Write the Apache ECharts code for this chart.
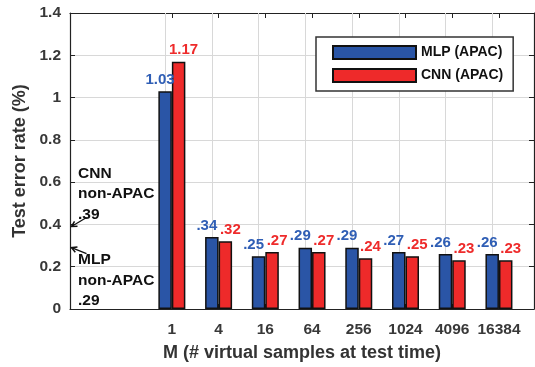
<!DOCTYPE html>
<html>
<head>
<meta charset="utf-8">
<script src="https://cdn.jsdelivr.net/npm/echarts@6/dist/echarts.min.js"></script>
<style>html,body{margin:0;padding:0;background:#fff;}#c{width:535px;height:367px;}</style>
</head>
<body>
<div id="c"></div>
<script>
const categories = ['1', '4', '16', '64', '256', '1024', '4096', '16384'];
const mlpApac = [1.03, 0.34, 0.25, 0.29, 0.29, 0.27, 0.26, 0.26];
const cnnApac = [1.17, 0.32, 0.27, 0.27, 0.24, 0.25, 0.23, 0.23];
const seriesNames = ['MLP (APAC)', 'CNN (APAC)'];
const nonApacNames = ['CNN', 'MLP'];
const nonApacValues = [0.39, 0.29];

const FONT = 'Liberation Sans, Arial, Helvetica, sans-serif';
const BLUE = '#2a55a6';
const RED = '#ee2a2a';
const X_MIN = -1.18, X_MAX = 8.75;
const positions = categories.map((c, i) => i + 1);

function fmt(v) {
  const s = v.toFixed(2);
  return s.startsWith('0') ? s.slice(1) : s;
}

const chart = echarts.init(document.getElementById('c'), null, {renderer: 'canvas'});

const axisCommonX = {
  type: 'value', min: X_MIN, max: X_MAX,
  axisLine: {show: true, onZero: false, lineStyle: {color: '#222', width: 1.2}},
  splitLine: {show: false}
};

chart.setOption({
  animation: false,
  backgroundColor: '#fff',
  grid: {left: 70, right: 1, top: 13, bottom: 54, containLabel: false},
  legend: {
    data: seriesNames,
    orient: 'vertical',
    left: 316, top: 37,
    itemWidth: 83, itemHeight: 13, itemGap: 8,
    padding: [8, 10, 8, 16],
    backgroundColor: '#fff',
    borderColor: '#333', borderWidth: 1.5,
    textStyle: {fontFamily: FONT, fontWeight: 'bold', fontSize: 14, color: '#111'},
    icon: 'rect'
  },
  xAxis: [
    Object.assign({}, axisCommonX, {
      position: 'bottom',
      name: 'M (# virtual samples at test time)',
      nameLocation: 'middle', nameGap: 35,
      nameTextStyle: {fontFamily: FONT, fontWeight: 'bold', fontSize: 18, color: '#333'},
      axisTick: {show: true, inside: true, length: 5, customValues: positions, lineStyle: {color: '#222'}},
      axisLabel: {
        show: true, customValues: positions, margin: 13,
        formatter: v => categories[Math.round(v) - 1] || '',
        fontFamily: FONT, fontWeight: 'bold', fontSize: 15.5, color: '#383838'
      }
    }),
    Object.assign({}, axisCommonX, {
      position: 'top',
      axisTick: {show: true, inside: true, length: 5, customValues: positions, lineStyle: {color: '#222'}},
      axisLabel: {show: false}
    })
  ],
  yAxis: [
    {
      type: 'value', min: 0, max: 1.4, interval: 0.2, position: 'left',
      name: 'Test error rate (%)', nameLocation: 'middle', nameGap: 35,
      nameTextStyle: {fontFamily: FONT, fontWeight: 'bold', fontSize: 18, color: '#333'},
      axisLine: {show: true, onZero: false, lineStyle: {color: '#222', width: 1.2}},
      axisTick: {show: true, inside: true, length: 5, lineStyle: {color: '#222'}},
      axisLabel: {
        margin: 9, fontFamily: FONT, fontWeight: 'bold', fontSize: 15.5, color: '#383838',
        formatter: v => (Math.abs(v - Math.round(v)) < 1e-9 ? String(Math.round(v)) : v.toFixed(1))
      },
      splitLine: {show: true, lineStyle: {color: '#d8d8d8', width: 1}}
    },
    {
      type: 'value', min: 0, max: 1.4, interval: 0.2, position: 'right',
      axisLine: {show: true, onZero: false, lineStyle: {color: '#222', width: 1.2}},
      axisTick: {show: true, inside: true, length: 5, lineStyle: {color: '#222'}},
      axisLabel: {show: false},
      splitLine: {show: false}
    }
  ],
  series: [
    {
      name: seriesNames[0], type: 'bar', z: 3,
      barWidth: 13.5, barGap: '0%',
      data: mlpApac.map((v, i) => [positions[i], v]),
      itemStyle: {color: BLUE, borderColor: '#111', borderWidth: 1.5},
      label: {
        show: true, position: 'top', distance: 4, offset: [-5, 0],
        formatter: p => fmt(p.value[1]),
        fontFamily: FONT, fontWeight: 'bold', fontSize: 15, color: '#2f5eb5'
      },
      markLine: {
        silent: true, symbol: 'none', animation: false, z: 1,
        label: {show: false},
        emphasis: {disabled: true},
        lineStyle: {color: '#d8d8d8', width: 1, type: 'solid'},
        data: positions.map(p => ({xAxis: p}))
      }
    },
    {
      name: seriesNames[1], type: 'bar', z: 3,
      barWidth: 13.5, barGap: '0%',
      data: cnnApac.map((v, i) => [positions[i], v]),
      itemStyle: {color: RED, borderColor: '#111', borderWidth: 1.5},
      label: {
        show: true, position: 'top', distance: 4, offset: [5, 0],
        formatter: p => fmt(p.value[1]),
        fontFamily: FONT, fontWeight: 'bold', fontSize: 15, color: '#ee2b2b'
      }
    }
  ]
});

// Annotations for non-APAC baselines, anchored to the data scale
const graphics = [];
nonApacNames.forEach((name, i) => {
  const v = nonApacValues[i];
  const tip = chart.convertToPixel({xAxisIndex: 0, yAxisIndex: 0}, [X_MIN, v]);
  const tipX = tip[0] + 1.5, tipY = tip[1];
  const isAbove = i === 0;
  const tailX = tipX + 15;
  const tailY = isAbove ? tipY - 9 : tipY + 6;
  const textTop = isAbove ? tipY - 63.5 : tipY + 2;
  graphics.push({
    type: 'text', z: 10,
    style: {
      text: name + '\nnon-APAC\n' + fmt(v),
      x: tip[0] + 8, y: textTop,
      fontFamily: FONT, fontWeight: 'bold', fontSize: 15.5, lineHeight: 20.5,
      fill: '#111', verticalAlign: 'top', align: 'left'
    }
  });
  graphics.push({
    type: 'line', z: 9,
    shape: {x1: tailX, y1: tailY, x2: tipX, y2: tipY},
    style: {stroke: '#111', lineWidth: 1.3}
  });
  const ang = Math.atan2(tailY - tipY, tailX - tipX);
  const hl = 6, spread = 0.5;
  graphics.push({
    type: 'polyline', z: 9,
    shape: {points: [
      [tipX + hl * Math.cos(ang + spread), tipY + hl * Math.sin(ang + spread)],
      [tipX, tipY],
      [tipX + hl * Math.cos(ang - spread), tipY + hl * Math.sin(ang - spread)]
    ]},
    style: {stroke: '#111', lineWidth: 1.5, fill: null}
  });
});
chart.setOption({graphic: graphics});
</script>
</body>
</html>
